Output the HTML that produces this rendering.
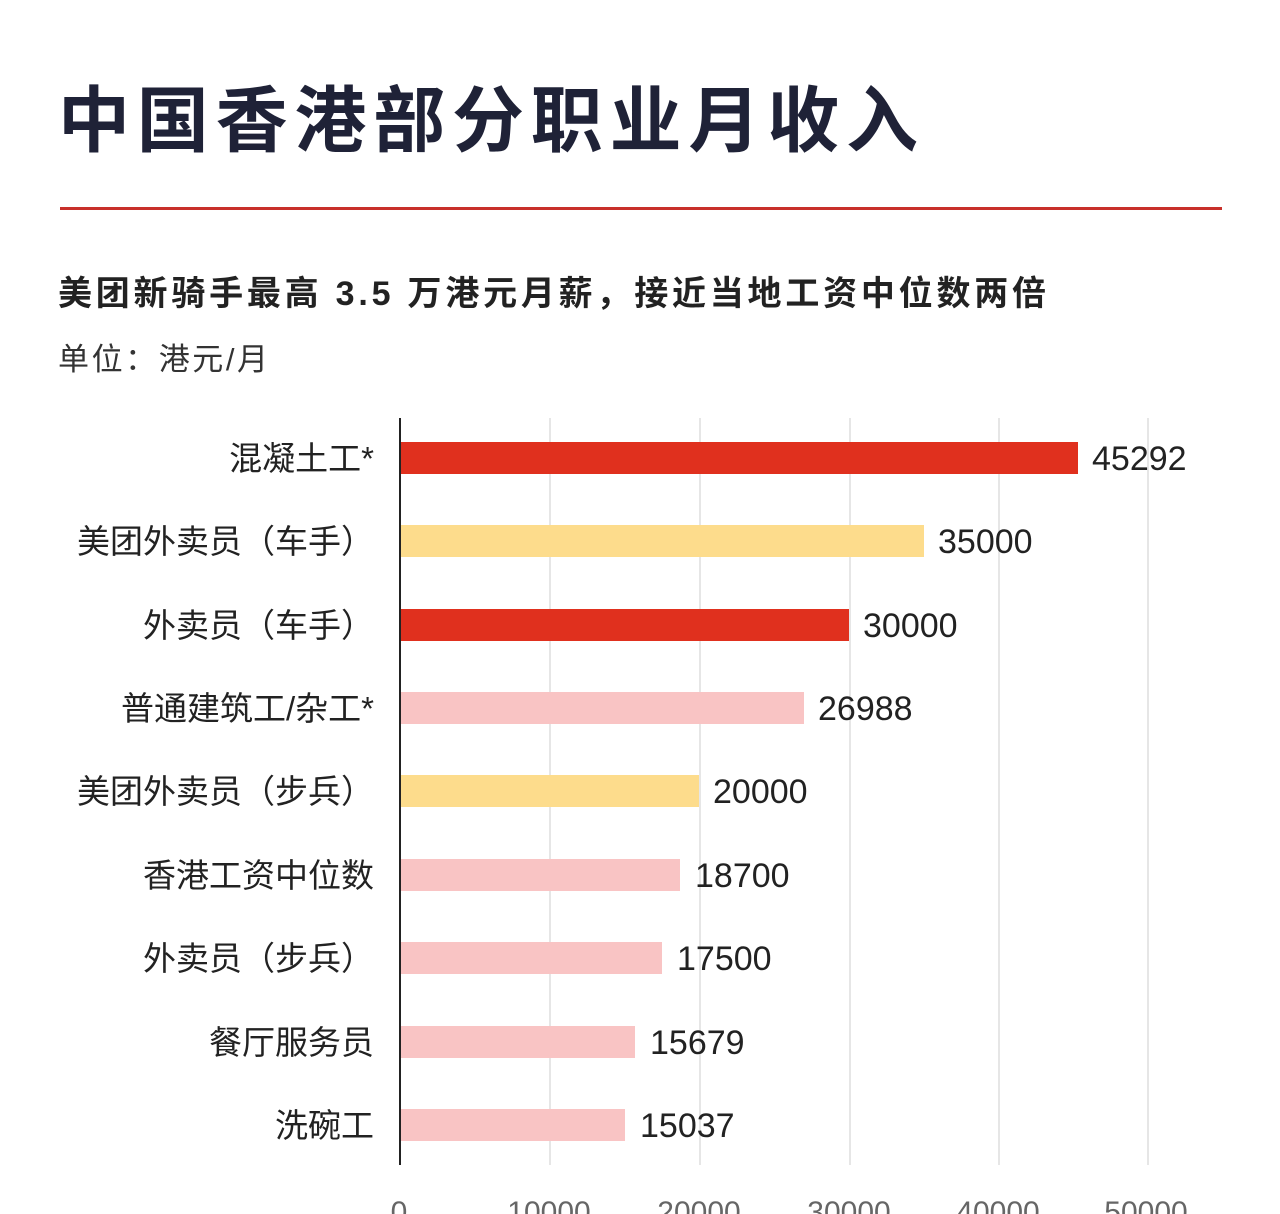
<!DOCTYPE html>
<html><head><meta charset="utf-8"><style>
body{margin:0;background:#fff;}
svg{display:block;font-family:"Liberation Sans","Noto Sans CJK SC",sans-serif;}
</style></head><body>
<svg width="1280" height="1214" viewBox="0 0 1280 1214">
<rect width="1280" height="1214" fill="#fff"/>
<text x="58" y="146" font-size="72" font-weight="bold" fill="#1f2237" textLength="860" lengthAdjust="spacing">中国香港部分职业月收入</text>
<rect x="60" y="207" width="1162" height="3" fill="#c8302a"/>
<text x="58" y="305" font-size="34" font-weight="bold" fill="#222" textLength="988" lengthAdjust="spacing">美团新骑手最高 3.5 万港元月薪，接近当地工资中位数两倍</text>
<text x="58" y="370" font-size="31" fill="#333" textLength="210" lengthAdjust="spacing">单位：港元/月</text>
<g stroke="#ddd" stroke-width="1.5">
<line x1="550" y1="418" x2="550" y2="1165"/>
<line x1="700" y1="418" x2="700" y2="1165"/>
<line x1="850" y1="418" x2="850" y2="1165"/>
<line x1="999" y1="418" x2="999" y2="1165"/>
<line x1="1148" y1="418" x2="1148" y2="1165"/>
</g>
<g>
<rect x="400" y="442" width="678" height="32" fill="#e0301e"/>
<rect x="400" y="525" width="524" height="32" fill="#fddc8c"/>
<rect x="400" y="609" width="449" height="32" fill="#e0301e"/>
<rect x="400" y="692" width="404" height="32" fill="#f9c4c4"/>
<rect x="400" y="775" width="299" height="32" fill="#fddc8c"/>
<rect x="400" y="859" width="280" height="32" fill="#f9c4c4"/>
<rect x="400" y="942" width="262" height="32" fill="#f9c4c4"/>
<rect x="400" y="1026" width="235" height="32" fill="#f9c4c4"/>
<rect x="400" y="1109" width="225" height="32" fill="#f9c4c4"/>
</g>
<line x1="400" y1="418" x2="400" y2="1165" stroke="#222" stroke-width="2"/>
<g font-size="33" fill="#222" text-anchor="end">
<text x="374" y="470">混凝土工*</text>
<text x="374" y="553">美团外卖员（车手）</text>
<text x="374" y="637">外卖员（车手）</text>
<text x="374" y="720">普通建筑工/杂工*</text>
<text x="374" y="803">美团外卖员（步兵）</text>
<text x="374" y="887">香港工资中位数</text>
<text x="374" y="970">外卖员（步兵）</text>
<text x="374" y="1054">餐厅服务员</text>
<text x="374" y="1137">洗碗工</text>
</g>
<g font-size="34" fill="#222">
<text x="1092" y="470">45292</text>
<text x="938" y="553">35000</text>
<text x="863" y="637">30000</text>
<text x="818" y="720">26988</text>
<text x="713" y="803">20000</text>
<text x="695" y="887">18700</text>
<text x="677" y="970">17500</text>
<text x="650" y="1054">15679</text>
<text x="640" y="1137">15037</text>
</g>
<g font-size="30" fill="#666" text-anchor="middle">
<text x="399" y="1222">0</text>
<text x="549" y="1222">10000</text>
<text x="699" y="1222">20000</text>
<text x="849" y="1222">30000</text>
<text x="998" y="1222">40000</text>
<text x="1146" y="1222">50000</text>
</g>
</svg>
</body></html>
